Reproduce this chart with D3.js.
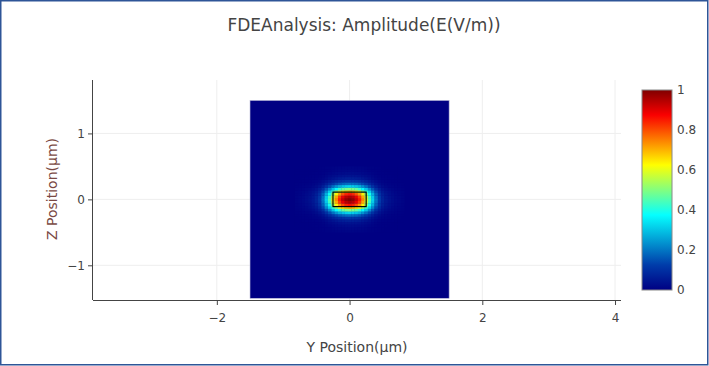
<!DOCTYPE html>
<html>
<head>
<meta charset="utf-8">
<script src="https://cdn.jsdelivr.net/npm/d3@7"></script>
<style>
  body { margin: 0; background: #fff; }
  svg { display: block; font-family: "DejaVu Sans", verdana, arial, sans-serif; }
  .grid line { stroke: #eee; }
  .axis path, .axis line { stroke: #444; }
  .axis text { fill: #444; font-size: 12px; font-family: "DejaVu Sans", verdana, sans-serif; }
</style>
</head>
<body>
<svg id="chart" width="709" height="366"></svg>
<script>
// field profile (normalised amplitude), grid step 0.05 um along Y
var yStep = 0.05;
var yProfile = [0.008, 0.012, 0.018, 0.025, 0.035, 0.05, 0.075, 0.12, 0.20, 0.32, 0.45, 0.60, 0.74, 0.85, 0.93, 0.98,
                1.0,
                0.98, 0.93, 0.85, 0.74, 0.60, 0.45, 0.32, 0.20, 0.12, 0.075, 0.05, 0.035, 0.025, 0.018, 0.012, 0.008];
// grid step 0.04 um along Z
var zStep = 0.04;
var zProfile = [0.01, 0.016, 0.025, 0.04, 0.065, 0.11, 0.19, 0.32, 0.50, 0.70, 0.86, 0.96,
                1.0,
                0.96, 0.86, 0.70, 0.50, 0.32, 0.19, 0.11, 0.065, 0.04, 0.025, 0.016, 0.01];

var simRegion = [-1.5, 1.5];          // monitor extent, both axes
var waveguideY = [-0.25, 0.25];
var waveguideZ = [-0.11, 0.11];

var xTicks = [-2, 0, 2, 4];
var yTicks = [-1, 0, 1];
var cbTicks = [0, 0.2, 0.4, 0.6, 0.8, 1];

// plotly "Jet"
var jetStops = [[0, "rgb(0,0,131)"], [0.125, "rgb(0,60,170)"], [0.375, "rgb(5,255,255)"],
                [0.625, "rgb(255,255,0)"], [0.875, "rgb(250,0,0)"], [1, "rgb(128,0,0)"]];

var svg = d3.select("#chart"),
    margin = {top: 80, right: 88, bottom: 66, left: 93},
    width = +svg.attr("width") - margin.left - margin.right,
    height = +svg.attr("height") - margin.top - margin.bottom,
    g = svg.append("g").attr("transform", "translate(" + margin.left + "," + margin.top + ")");

var x = d3.scaleLinear().domain([-3.866, 4.09]).range([0, width]);
var y = d3.scaleLinear().domain([-1.526, 1.81]).range([height, 0]);

var color = d3.scaleLinear()
    .domain(jetStops.map(function(d) { return d[0]; }))
    .range(jetStops.map(function(d) { return d[1]; }))
    .clamp(true);

// frame
svg.append("rect")
    .attr("x", 0.75).attr("y", 0.75)
    .attr("width", 707).attr("height", 364)
    .attr("fill", "none")
    .attr("stroke", "#2e5597")
    .attr("stroke-width", 1.5);

// grid
g.append("g").attr("class", "grid")
  .selectAll("line").data(xTicks).enter().append("line")
    .attr("x1", function(d) { return x(d); }).attr("x2", function(d) { return x(d); })
    .attr("y1", 0).attr("y2", height);
g.append("g").attr("class", "grid")
  .selectAll("line").data(yTicks).enter().append("line")
    .attr("y1", function(d) { return y(d); }).attr("y2", function(d) { return y(d); })
    .attr("x1", 0).attr("x2", width);

// heatmap background (field ~ 0 away from the core)
g.append("rect")
    .attr("x", x(simRegion[0]))
    .attr("y", y(simRegion[1]))
    .attr("width", x(simRegion[1]) - x(simRegion[0]))
    .attr("height", y(simRegion[0]) - y(simRegion[1]))
    .attr("fill", color(0))
    .attr("stroke", "#b8b8d8")
    .attr("stroke-width", 0.6);

// heatmap cells
var cells = [];
var yHalf = (yProfile.length - 1) / 2, zHalf = (zProfile.length - 1) / 2;
yProfile.forEach(function(py, i) {
  zProfile.forEach(function(pz, j) {
    cells.push({yc: (i - yHalf) * yStep, zc: (j - zHalf) * zStep, v: py * pz});
  });
});

g.append("g")
  .selectAll("rect").data(cells).enter().append("rect")
    .attr("x", function(d) { return x(d.yc - yStep / 2); })
    .attr("y", function(d) { return y(d.zc + zStep / 2); })
    .attr("width", x(yStep) - x(0) + 0.3)
    .attr("height", y(0) - y(zStep) + 0.3)
    .attr("fill", function(d) { return color(d.v); });

// waveguide outline
g.append("rect")
    .attr("x", x(waveguideY[0]))
    .attr("y", y(waveguideZ[1]))
    .attr("width", x(waveguideY[1]) - x(waveguideY[0]))
    .attr("height", y(waveguideZ[0]) - y(waveguideZ[1]))
    .attr("fill", "none")
    .attr("stroke", "#000")
    .attr("stroke-width", 1.2);

// axes
var xAxis = g.append("g").attr("class", "axis")
    .attr("transform", "translate(0," + height + ")")
    .call(d3.axisBottom(x).tickValues(xTicks).tickSize(5).tickSizeOuter(0).tickFormat(d3.format("")));
xAxis.selectAll("text").attr("dy", "1.2em");

var yAxis = g.append("g").attr("class", "axis")
    .call(d3.axisLeft(y).tickValues(yTicks).tickSize(5).tickSizeOuter(0).tickFormat(d3.format("")));
xAxis.select(".domain").attr("d", "M0,0.5H" + width);
yAxis.select(".domain").attr("d", "M-0.5,0V" + height);

// titles
svg.append("text")
    .attr("x", 364).attr("y", 31)
    .attr("text-anchor", "middle")
    .attr("font-size", 17)
    .attr("fill", "#444")
    .text("FDEAnalysis: Amplitude(E(V/m))");

svg.append("text")
    .attr("x", 357).attr("y", 352)
    .attr("text-anchor", "middle")
    .attr("font-size", 14)
    .attr("fill", "#444")
    .text("Y Position(\u03bcm)");

svg.append("text")
    .attr("transform", "translate(57,189) rotate(-90)")
    .attr("text-anchor", "middle")
    .attr("font-size", 14)
    .attr("fill", "#7a4a44")
    .text("Z Position(\u03bcm)");

// colorbar
var cb = {x: 642, y: 90, w: 30, h: 200};
var cbScale = d3.scaleLinear().domain([0, 1]).range([cb.y + cb.h, cb.y]);

var grad = svg.append("defs").append("linearGradient")
    .attr("id", "jet").attr("x1", 0).attr("y1", 1).attr("x2", 0).attr("y2", 0);
grad.selectAll("stop").data(jetStops).enter().append("stop")
    .attr("offset", function(d) { return d[0]; })
    .attr("stop-color", function(d) { return d[1]; });

svg.append("rect")
    .attr("x", cb.x).attr("y", cb.y)
    .attr("width", cb.w).attr("height", cb.h)
    .attr("fill", "url(#jet)")
    .attr("stroke", "#888")
    .attr("stroke-width", 1);

svg.append("g")
  .selectAll("text").data(cbTicks).enter().append("text")
    .attr("x", cb.x + cb.w + 5)
    .attr("y", function(d) { return cbScale(d); })
    .attr("dy", "0.35em")
    .attr("font-size", 12)
    .attr("fill", "#444")
    .text(function(d) { return d3.format("")(d); });
</script>
</body>
</html>
